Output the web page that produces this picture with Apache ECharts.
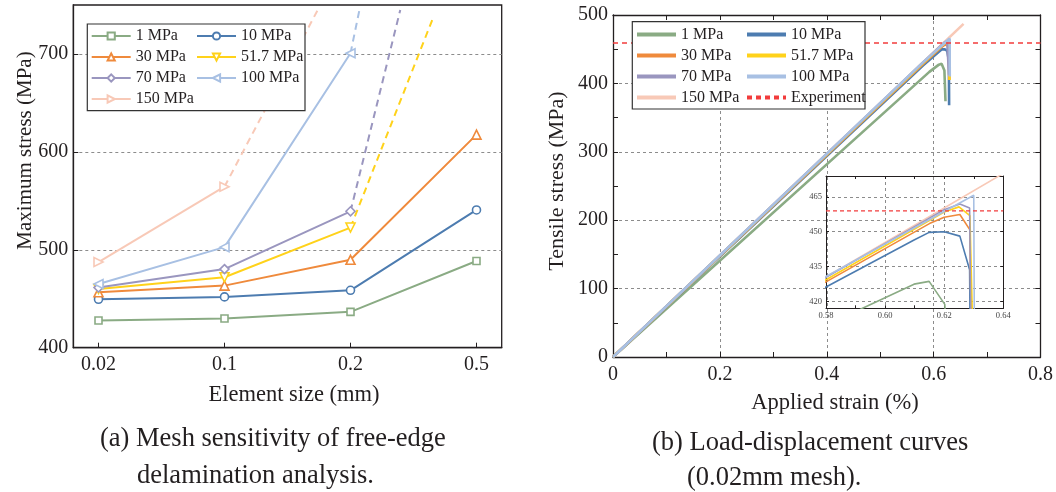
<!DOCTYPE html>
<html><head><meta charset="utf-8">
<script src="https://cdn.jsdelivr.net/npm/echarts@6/dist/echarts.min.js"></script>
<style>
html,body{margin:0;padding:0;background:#fff;}
#a{position:absolute;left:0;top:0;width:530px;height:492px;}
#b{position:absolute;left:530px;top:0;width:526px;height:492px;}
</style></head><body>
<div id="a"></div><div id="b"></div>
<script>
// ---------- shared ----------
const seriesNames = ['1 MPa','10 MPa','30 MPa','51.7 MPa','70 MPa','100 MPa','150 MPa'];
const seriesColors = ['#8aab84','#4d7cb0','#ef8a3c','#ffd21a','#9a96bf','#a8c0e3','#f8c9b7'];

// ---------- (a) mesh sensitivity ----------
const sizeLabels = ['0.02','0.1','0.2','0.5'];
const sizeIndex = [0,1,2,3];
const maxStress_1 = [427.8, 429.8, 436.6, 488.5];
const maxStress_10 = [449.5, 451.9, 458.6, 540.7];
const maxStress_30 = [456.6, 463.4, 489.8, 617.6];
const maxStress_51_7 = [460.0, 471.9, 522.7];
const maxStress_70 = [461.4, 480.3, 539.3];
const maxStress_100 = [465.1, 502.7, 700.7];
const maxStress_150 = [487.5, 564.4];
// dashed trend continuing past the last computed point (end of visible dash)
const trendEndIndex = [null, null, null, 2.654, 2.395, 2.071, 1.740];
const trendEndStress = [null, null, null, 736.4, 745, 745, 745];

// ---------- (b) load-displacement ----------
const strain_1 = [0, 0.592, 0.6098, 0.6149, 0.6202, 0.6222];
const stress_1 = [0, 416.8, 427.4, 428.6, 418.7, 374];
const strain_10 = [0, 0.58, 0.6098, 0.6149, 0.62, 0.6253, 0.6286, 0.629];
const stress_10 = [0, 426.2, 446.4, 449.7, 450.0, 448.1, 433.6, 368];
const strain_30 = [0, 0.58, 0.615, 0.62, 0.6253, 0.6287, 0.6292];
const stress_30 = [0, 428.4, 453.5, 456.2, 457.4, 450.8, 405];
const strain_51_7 = [0, 0.58, 0.62, 0.625, 0.6287, 0.6297];
const stress_51_7 = [0, 429.3, 458.5, 460.7, 456.9, 405];
const strain_70 = [0, 0.58, 0.62, 0.6253, 0.6286, 0.629];
const stress_70 = [0, 430.3, 459.5, 461.9, 460.2, 412];
const strain_100 = [0, 0.58, 0.630, 0.6302];
const stress_100 = [0, 430.7, 465.7, 410];
const strain_150 = [0, 0.58, 0.656];
const stress_150 = [0, 430.5, 487];
const experimentStress = 459;
const insetYTicks = [420, 435, 450, 465];

const serif = 'Liberation Serif';
const ink = '#231f20';
const gridDash = {type:[3,3], color:'#8c8c8c', width:1};

// ======== chart (a) ========
const leftValues = [maxStress_1, maxStress_10, maxStress_30, maxStress_51_7, maxStress_70, maxStress_100, maxStress_150];
const symbols = ['rect','circle','triangle','triangle','diamond','triangle','triangle'];
const rotations = [0,0,0,180,0,90,-90];
const symSizes = [7,8,9,9,9,9,9];

const seriesA = [];
leftValues.forEach((vals,i)=>{
  seriesA.push({
    type:'line', name:seriesNames[i],
    data: vals.map((v,j)=>[sizeIndex[j], v]),
    symbol: symbols[i], symbolRotate: rotations[i], symbolSize: symSizes[i],
    itemStyle:{color:'#fff', borderColor:seriesColors[i], borderWidth:1.6},
    lineStyle:{color:seriesColors[i], width:2},
    emphasis:{disabled:true}, z: 2
  });
  if (trendEndIndex[i] !== null) {
    const last = vals.length-1;
    seriesA.push({
      type:'line', name:seriesNames[i]+' trend',
      data: [[sizeIndex[last], vals[last]], [trendEndIndex[i], trendEndStress[i]]],
      symbol:'none', lineStyle:{color:seriesColors[i], width:2, type:[7,5]},
      emphasis:{disabled:true}, z: 1
    });
  }
});

const legendCommon = {orient:'vertical', itemWidth:39, itemHeight:9, itemGap:3, padding:0,
  selectedMode:false, textStyle:{fontFamily:serif, fontSize:16, color:ink, lineHeight:18}, z:10};

const chartA = echarts.init(document.getElementById('a'));
chartA.setOption({
  animation:false,
  grid:{left:73.3, top:5, width:428.4, height:342.7, show:true, borderColor:ink, borderWidth:1.3, backgroundColor:'transparent'},
  xAxis:{type:'value', min:-0.2, max:3.2,
    axisLine:{onZero:false, lineStyle:{color:ink, width:1.3}},
    axisTick:{inside:true, length:5, customValues:sizeIndex, lineStyle:{color:ink}},
    axisLabel:{customValues:sizeIndex, formatter:v=>sizeLabels[Math.round(v)], fontFamily:serif, fontSize:20, color:ink, margin:7},
    splitLine:{show:false}},
  yAxis:{type:'value', min:400, max:750, interval:100,
    axisLine:{show:true, onZero:false, lineStyle:{color:ink, width:1.3}},
    axisTick:{show:true, inside:true, length:5, lineStyle:{color:ink}},
    axisLabel:{fontFamily:serif, fontSize:20, color:ink, margin:5, showMaxLabel:false},
    splitLine:{show:true, showMaxLine:false, lineStyle:gridDash}},
  legend:[
    Object.assign({data:[seriesNames[0],seriesNames[2],seriesNames[4],seriesNames[6]], left:90.7, top:27}, legendCommon),
    Object.assign({data:[seriesNames[1],seriesNames[3],seriesNames[5]], left:196, top:27}, legendCommon)
  ],
  graphic:{elements:[
    {type:'rect', z:5, shape:{x:87.3, y:24, width:217.7, height:86.7}, style:{fill:'#fff', stroke:'#333', lineWidth:1.2}},
    {type:'text', x:25, y:150.5, rotation:Math.PI/2, style:{text:'Maximum stress (MPa)', font:'21px "Liberation Serif"', fill:ink, align:'center', verticalAlign:'middle'}},
    {type:'text', x:294, y:395, style:{text:'Element size (mm)', font:'22.5px "Liberation Serif"', fill:ink, align:'center', verticalAlign:'middle'}},
    {type:'text', x:100, y:439, style:{text:'(a) Mesh sensitivity of free-edge', font:'26.5px "Liberation Serif"', fill:ink, align:'left', verticalAlign:'middle'}},
    {type:'text', x:137, y:476, style:{text:'delamination analysis.', font:'26.5px "Liberation Serif"', fill:ink, align:'left', verticalAlign:'middle'}}
  ]},
  series: seriesA
});

// ======== chart (b) ========
const rightStrain = [strain_1, strain_10, strain_30, strain_51_7, strain_70, strain_100, strain_150];
const rightStress = [stress_1, stress_10, stress_30, stress_51_7, stress_70, stress_100, stress_150];
const drawOrder = [6,0,1,2,3,4,5];
const seriesB = [];
drawOrder.forEach(i=>{
  const pts = rightStrain[i].map((s,j)=>[s, rightStress[i][j]]);
  seriesB.push({type:'line', name:seriesNames[i], data:pts, xAxisIndex:0, yAxisIndex:0,
    symbol:'none', lineStyle:{color:seriesColors[i], width:2.6}, itemStyle:{color:seriesColors[i]}, emphasis:{disabled:true}});
  seriesB.push({type:'line', name:seriesNames[i], data:pts, xAxisIndex:2, yAxisIndex:2,
    symbol:'none', lineStyle:{color:seriesColors[i], width:1.6}, itemStyle:{color:seriesColors[i]}, emphasis:{disabled:true}, clip:true});
});
seriesB.push({type:'line', name:'Experiment', data:[[0,experimentStress],[0.8,experimentStress]], xAxisIndex:0, yAxisIndex:0,
  symbol:'none', lineStyle:{color:'#f23c3c', width:1.4, type:[5,4]}, itemStyle:{color:'#f23c3c'}, emphasis:{disabled:true}});
seriesB.push({type:'line', name:'Experiment', data:[[0.58,experimentStress],[0.64,experimentStress]], xAxisIndex:2, yAxisIndex:2,
  symbol:'none', lineStyle:{color:'#f23c3c', width:1.2, type:[4,3]}, itemStyle:{color:'#f23c3c'}, emphasis:{disabled:true}});

function boxAxis(extra){
  return Object.assign({type:'value',
    axisLine:{show:true, onZero:false, lineStyle:{color:ink, width:1.3}},
    axisTick:{show:true, inside:true, length:5, lineStyle:{color:ink}},
    minorTick:{show:true, splitNumber:2, length:5, lineStyle:{color:ink}},
    splitLine:{show:false}}, extra);
}
const mainLabel = {fontFamily:serif, fontSize:20, color:ink};
const insetLabel = {fontFamily:serif, fontSize:8.5, color:'#444'};
const insetLine = {show:true, onZero:false, lineStyle:{color:ink, width:1}};
const insetTick = {show:true, inside:true, length:3, lineStyle:{color:ink}};

const chartB = echarts.init(document.getElementById('b'));
chartB.setOption({
  animation:false,
  grid:[
    {left:83, top:15, width:428, height:342},
    {left:296, top:176, width:177.3, height:132.3}
  ],
  xAxis:[
    boxAxis({gridIndex:0, min:0, max:0.8, interval:0.2, position:'bottom',
      axisLabel:Object.assign({margin:8, formatter:v=>v===0?'0':v.toFixed(1)}, mainLabel),
      splitLine:{show:true, lineStyle:gridDash}}),
    boxAxis({gridIndex:0, min:0, max:0.8, interval:0.2, position:'top', axisLabel:{show:false}}),
    boxAxis({gridIndex:1, min:0.58, max:0.64, interval:0.02, position:'bottom',
      axisLine:insetLine, axisTick:insetTick,
      minorTick:{show:true, splitNumber:2, length:3, lineStyle:{color:ink}},
      axisLabel:Object.assign({margin:3, formatter:v=>v.toFixed(2)}, insetLabel),
      splitLine:{show:true, lineStyle:gridDash}}),
    boxAxis({gridIndex:1, min:0.58, max:0.64, interval:0.02, position:'top',
      axisLine:insetLine, axisTick:insetTick,
      minorTick:{show:true, splitNumber:2, length:3, lineStyle:{color:ink}},
      axisLabel:{show:false}})
  ],
  yAxis:[
    boxAxis({gridIndex:0, min:0, max:500, interval:100, position:'left',
      axisLabel:Object.assign({margin:5}, mainLabel),
      splitLine:{show:true, lineStyle:gridDash}}),
    boxAxis({gridIndex:0, min:0, max:500, interval:100, position:'right', axisLabel:{show:false}}),
    boxAxis({gridIndex:1, min:417, max:474, position:'left',
      axisLine:insetLine,
      axisTick:Object.assign({customValues:insetYTicks}, insetTick),
      minorTick:{show:false},
      axisLabel:Object.assign({margin:4, customValues:insetYTicks}, insetLabel),
      splitLine:{show:true, lineStyle:gridDash}}),
    boxAxis({gridIndex:1, min:417, max:474, position:'right',
      axisLine:insetLine,
      axisTick:Object.assign({customValues:insetYTicks}, insetTick),
      minorTick:{show:false},
      axisLabel:{show:false}})
  ],
  legend:[
    Object.assign({data:[seriesNames[0],seriesNames[2],seriesNames[4],seriesNames[6]], left:105, top:25.5,
      lineStyle:{width:4}, itemStyle:{color:'transparent', borderWidth:0, opacity:0}}, legendCommon),
    Object.assign({data:[seriesNames[1],seriesNames[3],seriesNames[5],'Experiment'], left:215, top:25.5,
      lineStyle:{width:4}, itemStyle:{color:'transparent', borderWidth:0, opacity:0}}, legendCommon)
  ],
  graphic:{elements:[
    {type:'rect', z:5, shape:{x:102.3, y:21.7, width:232.7, height:87.3}, style:{fill:'#fff', stroke:'#333', lineWidth:1.2}},
    {type:'text', x:27, y:181, rotation:Math.PI/2, style:{text:'Tensile stress (MPa)', font:'22px "Liberation Serif"', fill:ink, align:'center', verticalAlign:'middle'}},
    {type:'text', x:305, y:403, style:{text:'Applied strain (%)', font:'22.5px "Liberation Serif"', fill:ink, align:'center', verticalAlign:'middle'}},
    {type:'text', x:122, y:443, style:{text:'(b) Load-displacement curves', font:'26.5px "Liberation Serif"', fill:ink, align:'left', verticalAlign:'middle'}},
    {type:'text', x:157, y:478, style:{text:'(0.02mm mesh).', font:'26.5px "Liberation Serif"', fill:ink, align:'left', verticalAlign:'middle'}}
  ]},
  series: seriesB
});
</script>
</body></html>
